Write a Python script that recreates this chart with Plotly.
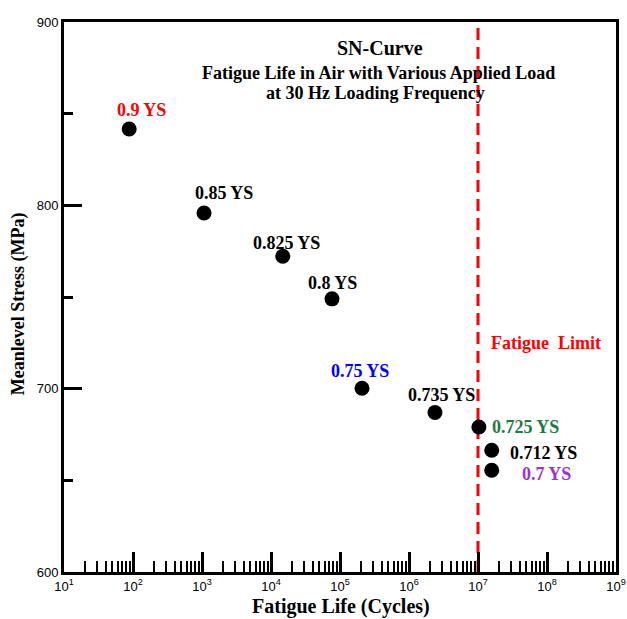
import numpy as np
import plotly.graph_objects as go

# ---- data ----
cycles = [88, 1070, 14800, 76600, 208500, 2380000, 10300000, 15800000, 15800000]
stress = [841.6, 795.8, 772.2, 749.0, 700.2, 687.0, 679.1, 666.4, 655.5]
labels = ["0.9 YS", "0.85 YS", "0.825 YS", "0.8 YS", "0.75 YS",
          "0.735 YS", "0.725 YS", "0.712 YS", "0.7 YS"]
label_colors = ["#ff0000", "#000000", "#000000", "#000000", "#0000ff",
                "#000000", "#1f7a3f", "#000000", "#a030d0"]
fatigue_limit = 1e7
x_decades = list(range(1, 10))
x_tick_vals = [10 ** n for n in x_decades]
x_tick_text = ["10<sup>%d</sup>" % n for n in x_decades]
x_minor_vals = [k * 10 ** n for n in range(1, 9) for k in range(2, 10)]
y_tick_vals = [600, 700, 800, 900]
y_minor_vals = [650, 750, 850]

# label placement (style only)
label_offsets = [(12, 19, "center"), (20, 20, "center"), (4, 13, "center"),
                 (0, 16, "center"), (-2, 17, "center"), (7, 18, "center"),
                 (11, 0, "left"), (16, -3, "left"), (28, -4, "left")]

SERIF = "Liberation Serif"
SANS = "Liberation Sans"

fig = go.Figure()

# fatigue limit dashed line
fig.add_trace(go.Scatter(
    x=[fatigue_limit, fatigue_limit], y=[600, 900], mode="lines",
    line=dict(color="#ff0000", width=3, dash="12px,7px"),
    showlegend=False, hoverinfo="skip"))

fig.add_trace(go.Scatter(
    x=cycles, y=stress, mode="markers",
    marker=dict(color="black", size=15),
    showlegend=False))

annotations = []
for c, s, lab, col, (dx, dy, anc) in zip(cycles, stress, labels, label_colors, label_offsets):
    annotations.append(dict(
        x=np.log10(c), y=s, xref="x", yref="y", text="<b>%s</b>" % lab,
        showarrow=False, xshift=dx, yshift=dy, xanchor=anc, yanchor="middle",
        font=dict(family=SERIF, size=18, color=col)))

annotations.append(dict(
    x=np.log10(fatigue_limit), y=724.9, xref="x", yref="y",
    text="<b>Fatigue\u00a0 Limit</b>", showarrow=False, xshift=11,
    xanchor="left", yanchor="middle",
    font=dict(family=SERIF, size=18, color="#ff0000")))

annotations.append(dict(
    x=0.5725, y=0.9527, xref="paper", yref="paper", text="<b>SN-Curve</b>",
    showarrow=False, xanchor="center", yanchor="middle",
    font=dict(family=SERIF, size=20, color="black")))
annotations.append(dict(
    x=0.569, y=0.907, xref="paper", yref="paper",
    text="<b>Fatigue Life in Air with Various Applied Load</b>",
    showarrow=False, xanchor="center", yanchor="middle",
    font=dict(family=SERIF, size=18, color="black")))
annotations.append(dict(
    x=0.565, y=0.871, xref="paper", yref="paper",
    text="<b>at 30 Hz Loading Frequency</b>",
    showarrow=False, xanchor="center", yanchor="middle",
    font=dict(family=SERIF, size=18, color="black")))

# axis titles
annotations.append(dict(
    x=0.502, y=-0.0636, xref="paper", yref="paper",
    text="<b>Fatigue Life (Cycles)</b>",
    showarrow=False, xanchor="center", yanchor="middle",
    font=dict(family=SERIF, size=20, color="black")))
annotations.append(dict(
    x=-0.0833, y=0.487, xref="paper", yref="paper",
    text="<b>Meanlevel Stress (MPa)</b>", textangle=-90,
    showarrow=False, xanchor="center", yanchor="middle",
    font=dict(family=SERIF, size=18, color="black")))

fig.update_layout(
    width=627, height=619,
    margin=dict(l=64, r=11, t=22, b=47),
    plot_bgcolor="white", paper_bgcolor="white",
    annotations=annotations,
    xaxis=dict(
        type="log", range=[1, 9], automargin=False,
        tickmode="array", tickvals=x_tick_vals, ticktext=x_tick_text,
        ticks="inside", ticklen=20, tickwidth=2.5, tickcolor="black",
        minor=dict(tickmode="array", tickvals=x_minor_vals, ticks="inside",
                   ticklen=11, tickwidth=2, tickcolor="black", showgrid=False),
        showline=True, linecolor="black", linewidth=3, mirror=True,
        showgrid=False, zeroline=False,
        tickfont=dict(family=SANS, size=13, color="black"),
    ),
    yaxis=dict(
        range=[600, 900], automargin=False,
        tickmode="array", tickvals=y_tick_vals,
        ticks="inside", ticklen=18, tickwidth=2.5, tickcolor="black",
        minor=dict(tickmode="array", tickvals=y_minor_vals, ticks="inside",
                   ticklen=9, tickwidth=2.5, tickcolor="black", showgrid=False),
        showline=True, linecolor="black", linewidth=3, mirror=True,
        showgrid=False, zeroline=False,
        tickfont=dict(family=SANS, size=13, color="black"),
    ),
)

fig.write_html("out.html")
